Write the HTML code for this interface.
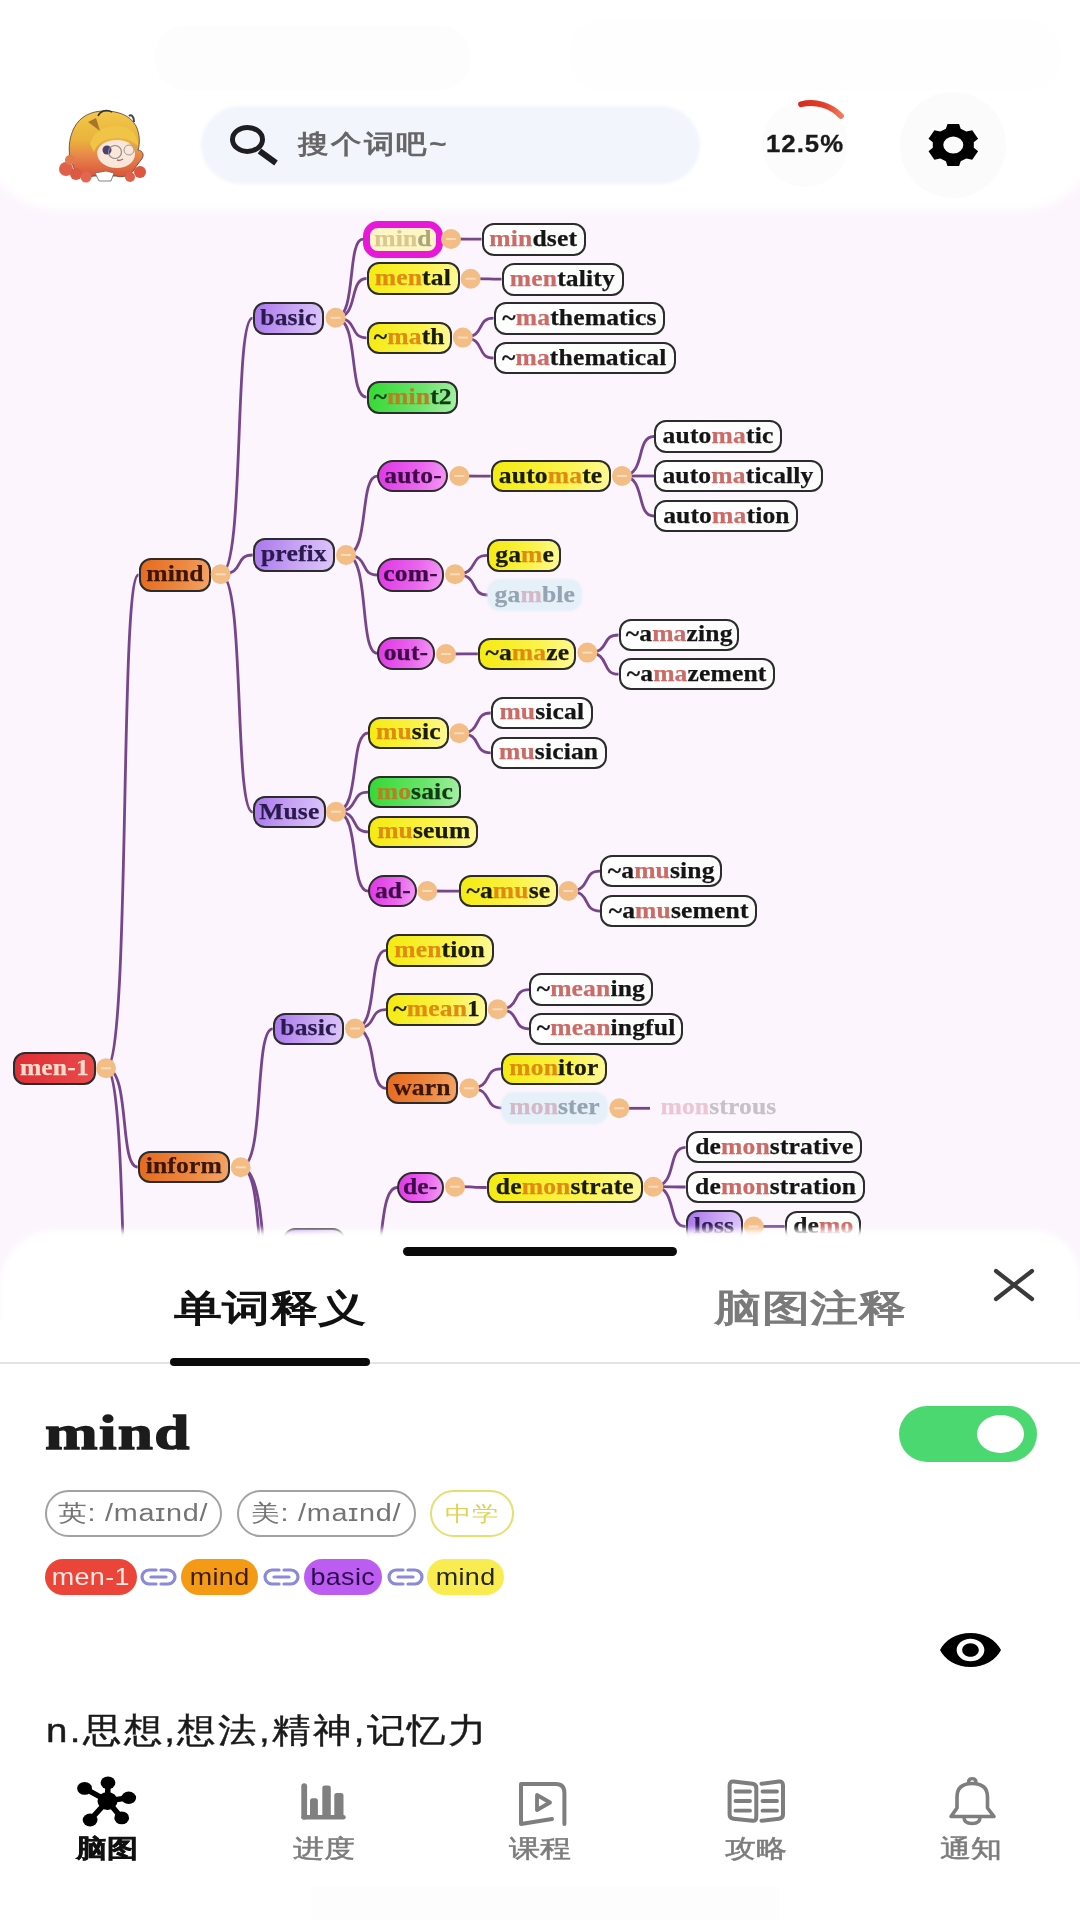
<!DOCTYPE html>
<html><head><meta charset="utf-8">
<style>
*{margin:0;padding:0;box-sizing:border-box}
html,body{width:1080px;height:1920px;overflow:hidden;background:#fff;font-family:"Liberation Sans",sans-serif}
.abs{position:absolute}
#map{position:absolute;left:0;top:0;width:1080px;height:1320px;overflow:hidden;background:#fcf5fd}
.n{position:absolute;border:2px solid #2c2c2c;border-radius:12px;display:flex;align-items:center;justify-content:center;font-family:"Liberation Serif",serif;font-weight:bold;font-size:24px;letter-spacing:0.15px;white-space:nowrap;line-height:1;padding-bottom:3px}
.n .t{display:inline-block;transform:scaleX(1.065);-webkit-text-stroke:0.25px currentColor}
.n i{font-style:normal}
svg.lines path{fill:none;stroke:#76458c;stroke-width:2.8}
svg.hd circle{fill:#f3bd86}
svg.hd path.mi{stroke:#fbe2c8;stroke-width:2;opacity:.8}
#hdr{position:absolute;left:0;top:0;width:1080px;height:208px}
#hdrbg{position:absolute;left:-20px;top:-40px;width:1120px;height:250px;background:#fff;border-radius:0 0 80px 80px;filter:blur(5px)}
#sheet{position:absolute;left:0;top:1230px;width:1080px;height:690px}
#shbg{position:absolute;left:0;top:0;width:1080px;height:740px;background:#fff;border-radius:56px 48px 0 0;filter:blur(3px)}
.tab{position:absolute;font-size:37px;font-weight:bold;letter-spacing:0px;transform:scaleX(1.3);transform-origin:0 0}
.pill{position:absolute;border:2.5px solid #a2a2a2;border-radius:24px;color:#747474;font-size:23px;letter-spacing:0.6px;display:flex;align-items:center;justify-content:center;white-space:nowrap}
.chip{position:absolute;border-radius:18px;font-size:24px;letter-spacing:0.3px;display:flex;align-items:center;justify-content:center;white-space:nowrap}
.pill span{display:inline-block;transform:scaleX(1.25)}
.chip span{display:inline-block;transform:scaleX(1.12)}
.nav{position:absolute;font-size:25px;color:#7c7c7c;text-align:center;width:120px;transform:scaleX(1.24);-webkit-text-stroke:0.5px currentColor;line-height:30px}
</style></head><body>
<div id="map">
<svg class="lines abs" width="1080" height="1320" style="left:0;top:0">
<path d="M106.0 1068.3C131.2 1068.3 119.0 575.0 138.5 575.0"/>
<path d="M106.0 1068.3C130.6 1068.3 118.7 1167.0 137.7 1167.0"/>
<path d="M106.0 1068.3C130.8 1068.3 118.8 1500.0 138.0 1500.0"/>
<path d="M220.7 574.3C245.3 574.3 233.4 318.2 252.5 318.2"/>
<path d="M220.7 574.3C245.5 574.3 233.5 555.0 252.7 555.0"/>
<path d="M220.7 574.3C245.5 574.3 233.5 812.1 252.7 812.1"/>
<path d="M240.7 1167.3C265.5 1167.3 253.5 1028.8 272.7 1028.8"/>
<path d="M240.7 1167.3C265.5 1167.3 253.5 1300.0 272.7 1300.0"/>
<path d="M240.7 1167.3C273.5 1167.3 257.6 1350.0 283.0 1350.0"/>
<path d="M335.6 317.8C356.8 317.8 346.6 239.2 363.0 239.2"/>
<path d="M335.6 317.8C359.5 317.8 348.0 278.5 366.5 278.5"/>
<path d="M335.6 317.8C359.5 317.8 348.0 337.8 366.5 337.8"/>
<path d="M335.6 317.8C359.5 317.8 348.0 397.2 366.5 397.2"/>
<path d="M346.0 555.0C370.3 555.0 358.5 476.1 377.3 476.1"/>
<path d="M346.0 555.0C370.3 555.0 358.5 575.0 377.3 575.0"/>
<path d="M346.0 555.0C370.3 555.0 358.5 653.4 377.3 653.4"/>
<path d="M336.0 811.7C361.0 811.7 348.9 733.0 368.3 733.0"/>
<path d="M336.0 811.7C361.0 811.7 348.9 792.1 368.3 792.1"/>
<path d="M336.0 811.7C361.0 811.7 348.9 831.9 368.3 831.9"/>
<path d="M336.0 811.7C361.0 811.7 348.9 891.1 368.3 891.1"/>
<path d="M355.0 1028.5C379.0 1028.5 367.4 950.4 386.0 950.4"/>
<path d="M355.0 1028.5C379.0 1028.5 367.4 1009.6 386.0 1009.6"/>
<path d="M355.0 1028.5C379.0 1028.5 367.4 1088.3 386.0 1088.3"/>
<path d="M451.0 239.0C474.6 239.0 463.2 239.2 481.5 239.2"/>
<path d="M470.6 278.7C494.5 278.7 483.0 279.2 501.5 279.2"/>
<path d="M462.8 337.6C486.6 337.6 475.1 318.2 493.5 318.2"/>
<path d="M462.8 337.6C486.6 337.6 475.1 358.0 493.5 358.0"/>
<path d="M459.3 476.0C483.6 476.0 471.9 476.1 490.7 476.1"/>
<path d="M455.0 574.3C480.1 574.3 468.0 555.4 487.4 555.4"/>
<path d="M455.0 574.3C480.6 574.3 468.2 595.0 488.0 595.0"/>
<path d="M446.0 654.0C470.6 654.0 458.7 653.9 477.8 653.9"/>
<path d="M622.0 476.0C646.8 476.0 634.8 436.5 654.0 436.5"/>
<path d="M622.0 476.0C646.8 476.0 634.8 476.0 654.0 476.0"/>
<path d="M622.0 476.0C646.8 476.0 634.8 516.0 654.0 516.0"/>
<path d="M587.4 652.6C611.5 652.6 599.8 635.0 618.5 635.0"/>
<path d="M587.4 652.6C611.5 652.6 599.8 674.2 618.5 674.2"/>
<path d="M459.3 733.3C483.6 733.3 471.9 713.0 490.7 713.0"/>
<path d="M459.3 733.3C483.6 733.3 471.9 752.9 490.7 752.9"/>
<path d="M427.3 891.0C451.9 891.0 440.0 891.1 459.0 891.1"/>
<path d="M568.3 891.0C592.9 891.0 581.0 871.1 600.0 871.1"/>
<path d="M568.3 891.0C592.9 891.0 581.0 911.1 600.0 911.1"/>
<path d="M497.7 1009.3C522.2 1009.3 510.3 989.6 529.3 989.6"/>
<path d="M497.7 1009.3C522.2 1009.3 510.3 1028.8 529.3 1028.8"/>
<path d="M469.3 1088.3C493.9 1088.3 482.0 1068.8 501.0 1068.8"/>
<path d="M469.3 1088.3C494.4 1088.3 482.3 1108.0 501.7 1108.0"/>
<path d="M619.3 1108.3C643.1 1108.3 631.6 1108.3 650.0 1108.3"/>
<path d="M455.0 1186.7C479.6 1186.7 467.7 1187.5 486.7 1187.5"/>
<path d="M653.3 1186.7C678.3 1186.7 666.2 1147.3 685.6 1147.3"/>
<path d="M653.3 1186.7C678.3 1186.7 666.2 1187.0 685.6 1187.0"/>
<path d="M653.3 1186.7C678.3 1186.7 666.2 1226.5 685.6 1226.5"/>
<path d="M753.6 1226.5C777.7 1226.5 766.0 1226.5 784.7 1226.5"/>
<path d="M358.0 1300.0C388.5 1300.0 373.7 1187.5 397.3 1187.5"/>
</svg>
<div class="n" style="left:363.0px;top:220.5px;width:79.5px;height:37.5px;background:#fdf5c6;color:#a9a77a;border:7px solid #e818d8;border-radius:15px;"><span class="t"><i style="color:#d9c78c">min</i>d</span></div>
<div class="n" style="left:366.5px;top:262.0px;width:93.0px;height:33.0px;background:linear-gradient(100deg,#f4ea10 0%,#fbf34a 60%,#fdf99a 100%);color:#1a1a08;"><span class="t"><i style="color:#e08a12">men</i>tal</span></div>
<div class="n" style="left:366.5px;top:321.5px;width:85.0px;height:32.5px;background:linear-gradient(100deg,#f4ea10 0%,#fbf34a 60%,#fdf99a 100%);color:#1a1a08;"><span class="t">~<i style="color:#e08a12">ma</i>th</span></div>
<div class="n" style="left:366.5px;top:381.0px;width:91.5px;height:32.5px;background:linear-gradient(100deg,#34d834 0%,#6ce46c 60%,#a6f0a6 100%);color:#143a14;"><span class="t">~<i style="color:#b8801e">min</i>t2</span></div>
<div class="n" style="left:252.5px;top:302.0px;width:71.5px;height:32.5px;background:linear-gradient(100deg,#a977ec 0%,#c9a6f4 55%,#dcc6fb 100%);color:#2b1a4e;"><span class="t">basic</span></div>
<div class="n" style="left:481.5px;top:223.0px;width:104.0px;height:32.5px;background:linear-gradient(100deg,#ffffff 0%,#fbfbfb 100%);color:#151515;"><span class="t"><i style="color:#cc6a66">min</i>dset</span></div>
<div class="n" style="left:501.5px;top:263.0px;width:122.5px;height:32.5px;background:linear-gradient(100deg,#ffffff 0%,#fbfbfb 100%);color:#151515;"><span class="t"><i style="color:#cc6a66">men</i>tality</span></div>
<div class="n" style="left:493.5px;top:302.0px;width:171.5px;height:32.5px;background:linear-gradient(100deg,#ffffff 0%,#fbfbfb 100%);color:#151515;"><span class="t">~<i style="color:#cc6a66">ma</i>thematics</span></div>
<div class="n" style="left:493.5px;top:342.0px;width:182.0px;height:32.0px;background:linear-gradient(100deg,#ffffff 0%,#fbfbfb 100%);color:#151515;"><span class="t">~<i style="color:#cc6a66">ma</i>thematical</span></div>
<div class="n" style="left:138.5px;top:558.3px;width:72.2px;height:33.4px;background:linear-gradient(100deg,#e56a1e 0%,#ee8840 60%,#f3a468 100%);color:#3a1608;"><span class="t">mind</span></div>
<div class="n" style="left:252.7px;top:538.3px;width:82.3px;height:33.4px;background:linear-gradient(100deg,#a977ec 0%,#c9a6f4 55%,#dcc6fb 100%);color:#2b1a4e;"><span class="t">prefix</span></div>
<div class="n" style="left:377.3px;top:460.0px;width:71.0px;height:32.3px;background:linear-gradient(100deg,#df36e6 0%,#ea66ee 60%,#f39af4 100%);color:#3c0a44;border-radius:16px;"><span class="t">auto-</span></div>
<div class="n" style="left:377.3px;top:558.3px;width:66.7px;height:33.4px;background:linear-gradient(100deg,#df36e6 0%,#ea66ee 60%,#f39af4 100%);color:#3c0a44;border-radius:16px;"><span class="t">com-</span></div>
<div class="n" style="left:377.3px;top:636.7px;width:57.7px;height:33.3px;background:linear-gradient(100deg,#df36e6 0%,#ea66ee 60%,#f39af4 100%);color:#3c0a44;border-radius:16px;"><span class="t">out-</span></div>
<div class="n" style="left:490.7px;top:460.0px;width:120.8px;height:32.2px;background:linear-gradient(100deg,#f4ea10 0%,#fbf34a 60%,#fdf99a 100%);color:#1a1a08;"><span class="t">auto<i style="color:#e08a12">ma</i>te</span></div>
<div class="n" style="left:654.0px;top:420.4px;width:127.5px;height:32.2px;background:linear-gradient(100deg,#ffffff 0%,#fbfbfb 100%);color:#151515;"><span class="t">auto<i style="color:#cc6a66">ma</i>tic</span></div>
<div class="n" style="left:654.0px;top:460.0px;width:168.6px;height:32.0px;background:linear-gradient(100deg,#ffffff 0%,#fbfbfb 100%);color:#151515;"><span class="t">auto<i style="color:#cc6a66">ma</i>tically</span></div>
<div class="n" style="left:654.0px;top:500.0px;width:144.0px;height:32.0px;background:linear-gradient(100deg,#ffffff 0%,#fbfbfb 100%);color:#151515;"><span class="t">auto<i style="color:#cc6a66">ma</i>tion</span></div>
<div class="n" style="left:487.4px;top:538.9px;width:73.6px;height:33.0px;background:linear-gradient(100deg,#f4ea10 0%,#fbf34a 60%,#fdf99a 100%);color:#1a1a08;"><span class="t">ga<i style="color:#e08a12">m</i>e</span></div>
<div class="n" style="left:488.0px;top:580.0px;width:92.7px;height:30.0px;background:#e5f0f9;color:#94a4b2;border:none;box-shadow:0 0 3px 1px #e5f0f9;"><span class="t">ga<i style="color:#d2b8c8">m</i>ble</span></div>
<div class="n" style="left:477.8px;top:637.8px;width:98.5px;height:32.2px;background:linear-gradient(100deg,#f4ea10 0%,#fbf34a 60%,#fdf99a 100%);color:#1a1a08;"><span class="t">~a<i style="color:#e08a12">ma</i>ze</span></div>
<div class="n" style="left:618.5px;top:619.3px;width:120.8px;height:31.4px;background:linear-gradient(100deg,#ffffff 0%,#fbfbfb 100%);color:#151515;"><span class="t">~a<i style="color:#cc6a66">ma</i>zing</span></div>
<div class="n" style="left:618.5px;top:658.0px;width:156.7px;height:32.4px;background:linear-gradient(100deg,#ffffff 0%,#fbfbfb 100%);color:#151515;"><span class="t">~a<i style="color:#cc6a66">ma</i>zement</span></div>
<div class="n" style="left:252.7px;top:796.0px;width:73.0px;height:32.3px;background:linear-gradient(100deg,#a977ec 0%,#c9a6f4 55%,#dcc6fb 100%);color:#2b1a4e;"><span class="t">Muse</span></div>
<div class="n" style="left:368.3px;top:716.7px;width:81.0px;height:32.6px;background:linear-gradient(100deg,#f4ea10 0%,#fbf34a 60%,#fdf99a 100%);color:#1a1a08;"><span class="t"><i style="color:#e08a12">mu</i>sic</span></div>
<div class="n" style="left:368.3px;top:776.0px;width:92.4px;height:32.3px;background:linear-gradient(100deg,#34d834 0%,#6ce46c 60%,#a6f0a6 100%);color:#143a14;"><span class="t"><i style="color:#b8801e">mo</i>saic</span></div>
<div class="n" style="left:368.3px;top:816.0px;width:110.0px;height:31.7px;background:linear-gradient(100deg,#f4ea10 0%,#fbf34a 60%,#fdf99a 100%);color:#1a1a08;"><span class="t"><i style="color:#e08a12">mu</i>seum</span></div>
<div class="n" style="left:368.3px;top:875.0px;width:48.4px;height:32.3px;background:linear-gradient(100deg,#df36e6 0%,#ea66ee 60%,#f39af4 100%);color:#3c0a44;border-radius:16px;"><span class="t">ad-</span></div>
<div class="n" style="left:459.0px;top:875.0px;width:98.7px;height:32.3px;background:linear-gradient(100deg,#f4ea10 0%,#fbf34a 60%,#fdf99a 100%);color:#1a1a08;"><span class="t">~a<i style="color:#e08a12">mu</i>se</span></div>
<div class="n" style="left:490.7px;top:696.7px;width:102.0px;height:32.6px;background:linear-gradient(100deg,#ffffff 0%,#fbfbfb 100%);color:#151515;"><span class="t"><i style="color:#cc6a66">mu</i>sical</span></div>
<div class="n" style="left:490.7px;top:736.7px;width:116.6px;height:32.3px;background:linear-gradient(100deg,#ffffff 0%,#fbfbfb 100%);color:#151515;"><span class="t"><i style="color:#cc6a66">mu</i>sician</span></div>
<div class="n" style="left:600.0px;top:855.0px;width:121.7px;height:32.3px;background:linear-gradient(100deg,#ffffff 0%,#fbfbfb 100%);color:#151515;"><span class="t">~a<i style="color:#cc6a66">mu</i>sing</span></div>
<div class="n" style="left:600.0px;top:895.0px;width:157.3px;height:32.3px;background:linear-gradient(100deg,#ffffff 0%,#fbfbfb 100%);color:#151515;"><span class="t">~a<i style="color:#cc6a66">mu</i>sement</span></div>
<div class="n" style="left:13.3px;top:1052.3px;width:82.4px;height:32.7px;background:linear-gradient(100deg,#de2e36 0%,#ea4a4a 100%);color:#f6dccc;"><span class="t">men-1</span></div>
<div class="n" style="left:137.7px;top:1150.7px;width:92.3px;height:32.6px;background:linear-gradient(100deg,#e56a1e 0%,#ee8840 60%,#f3a468 100%);color:#3a1608;"><span class="t">inform</span></div>
<div class="n" style="left:272.7px;top:1012.7px;width:71.3px;height:32.3px;background:linear-gradient(100deg,#a977ec 0%,#c9a6f4 55%,#dcc6fb 100%);color:#2b1a4e;"><span class="t">basic</span></div>
<div class="n" style="left:386.0px;top:934.0px;width:108.0px;height:32.7px;background:linear-gradient(100deg,#f4ea10 0%,#fbf34a 60%,#fdf99a 100%);color:#1a1a08;"><span class="t"><i style="color:#e08a12">men</i>tion</span></div>
<div class="n" style="left:386.0px;top:993.3px;width:101.3px;height:32.7px;background:linear-gradient(100deg,#f4ea10 0%,#fbf34a 60%,#fdf99a 100%);color:#1a1a08;"><span class="t">~<i style="color:#e08a12">mean</i>1</span></div>
<div class="n" style="left:529.3px;top:973.3px;width:124.0px;height:32.7px;background:linear-gradient(100deg,#ffffff 0%,#fbfbfb 100%);color:#151515;"><span class="t">~<i style="color:#cc6a66">mean</i>ing</span></div>
<div class="n" style="left:529.3px;top:1012.7px;width:154.0px;height:32.3px;background:linear-gradient(100deg,#ffffff 0%,#fbfbfb 100%);color:#151515;"><span class="t">~<i style="color:#cc6a66">mean</i>ingful</span></div>
<div class="n" style="left:386.0px;top:1072.3px;width:72.3px;height:32.0px;background:linear-gradient(100deg,#e56a1e 0%,#ee8840 60%,#f3a468 100%);color:#3a1608;"><span class="t">warn</span></div>
<div class="n" style="left:501.0px;top:1052.7px;width:105.7px;height:32.3px;background:linear-gradient(100deg,#f4ea10 0%,#fbf34a 60%,#fdf99a 100%);color:#1a1a08;"><span class="t"><i style="color:#e08a12">mon</i>itor</span></div>
<div class="n" style="left:501.7px;top:1093.3px;width:105.0px;height:29.4px;background:#e5f0f9;color:#94a4b2;border:none;box-shadow:0 0 3px 1px #e5f0f9;"><span class="t"><i style="color:#d2b8c8">mon</i>ster</span></div>
<div class="n" style="left:652.0px;top:1093.3px;width:133.0px;height:29.4px;background:transparent;color:#c8c0c8;border:none;"><span class="t"><i style="color:#ecc6d2">mon</i>strous</span></div>
<div class="n" style="left:397.3px;top:1171.7px;width:46.7px;height:31.6px;background:linear-gradient(100deg,#df36e6 0%,#ea66ee 60%,#f39af4 100%);color:#3c0a44;border-radius:16px;"><span class="t">de-</span></div>
<div class="n" style="left:486.7px;top:1171.7px;width:156.6px;height:31.6px;background:linear-gradient(100deg,#f4ea10 0%,#fbf34a 60%,#fdf99a 100%);color:#1a1a08;"><span class="t">de<i style="color:#e08a12">mon</i>strate</span></div>
<div class="n" style="left:685.6px;top:1131.4px;width:176.9px;height:31.9px;background:linear-gradient(100deg,#ffffff 0%,#fbfbfb 100%);color:#151515;"><span class="t">de<i style="color:#cc6a66">mon</i>strative</span></div>
<div class="n" style="left:685.6px;top:1171.0px;width:179.7px;height:32.0px;background:linear-gradient(100deg,#ffffff 0%,#fbfbfb 100%);color:#151515;"><span class="t">de<i style="color:#cc6a66">mon</i>stration</span></div>
<div class="n" style="left:685.6px;top:1210.0px;width:57.4px;height:33.0px;background:linear-gradient(100deg,#a977ec 0%,#c9a6f4 55%,#dcc6fb 100%);color:#2b1a4e;"><span class="t">loss</span></div>
<div class="n" style="left:784.7px;top:1210.5px;width:76.3px;height:32.5px;background:linear-gradient(100deg,#ffffff 0%,#fbfbfb 100%);color:#151515;"><span class="t">de<i style="color:#cc6a66">mo</i></span></div>
<div class="n" style="left:283.0px;top:1228.0px;width:62.0px;height:32.0px;background:linear-gradient(100deg,#a977ec 0%,#c9a6f4 55%,#dcc6fb 100%);color:#2b1a4e;"><span class="t"></span></div>
<svg class="hd abs" width="1080" height="1320" style="left:0;top:0">
<circle cx="106" cy="1068.3" r="10"/><path d="M101 1068.3h10" class="mi"/>
<circle cx="220.7" cy="574.3" r="10"/><path d="M215.7 574.3h10" class="mi"/>
<circle cx="240.7" cy="1167.3" r="10"/><path d="M235.7 1167.3h10" class="mi"/>
<circle cx="335.6" cy="317.8" r="10"/><path d="M330.6 317.8h10" class="mi"/>
<circle cx="346" cy="555" r="10"/><path d="M341 555h10" class="mi"/>
<circle cx="336" cy="811.7" r="10"/><path d="M331 811.7h10" class="mi"/>
<circle cx="355" cy="1028.5" r="10"/><path d="M350 1028.5h10" class="mi"/>
<circle cx="451" cy="239" r="10"/><path d="M446 239h10" class="mi"/>
<circle cx="470.6" cy="278.7" r="10"/><path d="M465.6 278.7h10" class="mi"/>
<circle cx="462.8" cy="337.6" r="10"/><path d="M457.8 337.6h10" class="mi"/>
<circle cx="459.3" cy="476" r="10"/><path d="M454.3 476h10" class="mi"/>
<circle cx="455" cy="574.3" r="10"/><path d="M450 574.3h10" class="mi"/>
<circle cx="446" cy="654" r="10"/><path d="M441 654h10" class="mi"/>
<circle cx="622" cy="476" r="10"/><path d="M617 476h10" class="mi"/>
<circle cx="587.4" cy="652.6" r="10"/><path d="M582.4 652.6h10" class="mi"/>
<circle cx="459.3" cy="733.3" r="10"/><path d="M454.3 733.3h10" class="mi"/>
<circle cx="427.3" cy="891" r="10"/><path d="M422.3 891h10" class="mi"/>
<circle cx="568.3" cy="891" r="10"/><path d="M563.3 891h10" class="mi"/>
<circle cx="497.7" cy="1009.3" r="10"/><path d="M492.7 1009.3h10" class="mi"/>
<circle cx="469.3" cy="1088.3" r="10"/><path d="M464.3 1088.3h10" class="mi"/>
<circle cx="619.3" cy="1108.3" r="10"/><path d="M614.3 1108.3h10" class="mi"/>
<circle cx="455" cy="1186.7" r="10"/><path d="M450 1186.7h10" class="mi"/>
<circle cx="653.3" cy="1186.7" r="10"/><path d="M648.3 1186.7h10" class="mi"/>
<circle cx="753.6" cy="1226.5" r="10"/><path d="M748.6 1226.5h10" class="mi"/>
</svg>
</div>

<div id="hdr">
  <div id="hdrbg"></div>
  <div class="abs" style="left:155px;top:25px;width:315px;height:65px;background:#fdfdfd;border-radius:30px"></div>
  <div class="abs" style="left:570px;top:20px;width:490px;height:70px;background:#fefefe;border-radius:30px"></div>
  <!-- avatar -->
  <svg class="abs" style="left:50px;top:100px" width="100" height="90" viewBox="0 0 100 90">
    <defs>
      <linearGradient id="hair" x1="0" y1="0" x2="0" y2="1">
        <stop offset="0" stop-color="#f2c84a"/><stop offset="0.45" stop-color="#e9b23c"/>
        <stop offset="0.7" stop-color="#e7834a"/><stop offset="1" stop-color="#d9533a"/>
      </linearGradient>
    </defs>
    <path d="M20 58 C18 46 20 36 24 28 C30 16 42 11 54 11 C68 11 80 15 86 26 C90 34 90 44 88 50 C93 51 95 55 91 60 C88 64 86 66 84 70 C80 76 72 78 66 76 L44 76 C36 78 28 74 24 68Z" fill="url(#hair)" stroke="#5a3a2a" stroke-width="0.8"/>
    <circle cx="16" cy="69" r="7" fill="#e0604a"/><circle cx="26" cy="74" r="6" fill="#dc5a44"/><circle cx="36" cy="77" r="5.5" fill="#e26650"/>
    <circle cx="20" cy="60" r="5" fill="#e27a50"/><circle cx="90" cy="72" r="6" fill="#dc5640"/><circle cx="80" cy="77" r="5" fill="#e06048"/>
    <path d="M47 52 C49 44 57 40 67 40 C78 40 85 46 85 54 C85 62 77 68 67 68 C56 68 47 62 47 52Z" fill="#fbe6da"/>
    <path d="M40 44 C44 30 56 26 68 26 C80 26 88 34 88 46 C82 40 74 38 66 38 C56 38 48 42 44 52Z" fill="#efc447"/>
    <path d="M38 22 L50 31 L46 18Z" fill="#a87428"/>
    <path d="M48 16 C50 11 56 9 62 12" fill="none" stroke="#333" stroke-width="1.5"/>
    <path d="M79 16 C81 14 84 16 84 22" fill="none" stroke="#444" stroke-width="2"/>
    <ellipse cx="57" cy="50" rx="4.5" ry="4.5" fill="#4a4270"/>
    <circle cx="65" cy="52" r="6.5" fill="none" stroke="#8a8a8a" stroke-width="1.2"/>
    <circle cx="79" cy="50" r="5" fill="none" stroke="#9a9a9a" stroke-width="1"/>
    <path d="M67 60 Q70 61 73 59" stroke="#b06060" stroke-width="1.4" fill="none"/>
    <path d="M45 73 L56 71 L64 73 L61 81 L49 81Z" fill="#fff" stroke="#666" stroke-width="0.8"/>
  </svg>
  <!-- search -->
  <div class="abs" style="left:201px;top:106px;width:499px;height:78px;background:#f3f5fc;border-radius:39px;filter:blur(1.5px)"></div>
  <svg class="abs" style="left:0;top:0" width="600" height="208">
    <ellipse cx="247.5" cy="139.4" rx="15" ry="12" fill="none" stroke="#1e1e22" stroke-width="5"/>
    <path d="M259.5 151 L276 163" stroke="#1e1e22" stroke-width="6"/>
  </svg>
  <div class="abs" style="left:298px;top:127px;font-size:26px;color:#666;font-weight:bold;letter-spacing:2px;transform:scaleX(1.17);transform-origin:0 0">搜个词吧~</div>
  <!-- progress -->
  <div class="abs" style="left:762px;top:101px;width:86px;height:86px;border-radius:50%;background:#fcfcfc"></div>
  <svg class="abs" style="left:750px;top:90px" width="110" height="110" viewBox="0 0 110 110">
    <defs><linearGradient id="arcg" x1="0" y1="0" x2="1" y2="0"><stop offset="0" stop-color="#d92a20"/><stop offset="0.6" stop-color="#e2402c"/><stop offset="1" stop-color="#ec7a5c"/></linearGradient></defs><path d="M51 14.3 A41 41 0 0 1 91 26" fill="none" stroke="url(#arcg)" stroke-width="5.8" stroke-linecap="round"/>
  </svg>
  <div class="abs" style="left:766px;top:131px;font-size:23px;font-weight:bold;color:#1a1a1a;letter-spacing:0.9px;transform:scaleX(1.12);transform-origin:0 0;-webkit-text-stroke:0.3px #1a1a1a">12.5%</div>
  <!-- settings -->
  <div class="abs" style="left:900px;top:92px;width:106px;height:106px;border-radius:50%;background:#fbfbfb"></div>
  <svg class="abs" style="left:0;top:0" width="1080" height="208"><path fill="#000" fill-rule="evenodd" d="M960.7 128.8 L959.1 123.9 L947.5 123.9 L945.9 128.8 L940.3 131.5 L934.4 130.2 L928.5 138.7 L932.8 142.3 L932.8 147.7 L928.5 151.3 L934.4 159.8 L940.3 158.5 L945.9 161.2 L947.5 166.1 L959.1 166.1 L960.7 161.2 L966.3 158.5 L972.2 159.8 L978.1 151.3 L973.8 147.7 L973.8 142.3 L978.1 138.7 L972.2 130.2 L966.3 131.5Z M943.3 145 A10 8.6 0 1 0 963.3 145 A10 8.6 0 1 0 943.3 145Z"/></svg>
</div>

<div id="sheet">
  <div id="shbg"></div>
  <div class="abs" style="left:403px;top:17px;width:274px;height:9px;background:#0a0a0a;border-radius:5px"></div>
  <div class="tab" style="left:174px;top:54px;color:#111">单词释义</div>
  <div class="tab" style="left:714px;top:54px;color:#7a7a7a">脑图注释</div>
  <svg class="abs" style="left:990px;top:36px" width="48" height="48" viewBox="0 0 48 48">
    <path d="M6 5 L42 33 M42 5 L6 33" stroke="#3a3a3a" stroke-width="4.2" stroke-linecap="round"/>
  </svg>
  <div class="abs" style="left:0;top:132px;width:1080px;height:2px;background:#e3e3e3"></div>
  <div class="abs" style="left:170px;top:128px;width:200px;height:8px;background:#0a0a0a;border-radius:4px"></div>

  <div class="abs" style="left:45px;top:174px;font-family:'Liberation Serif',serif;font-weight:bold;font-size:49px;color:#1c1c1c;letter-spacing:1px;-webkit-text-stroke:1.3px #1c1c1c;transform:scaleX(1.29);transform-origin:0 0">mind</div>
  <div class="abs" style="left:899px;top:176px;width:138px;height:56px;border-radius:28px;background:#4cd870"></div>
  <div class="abs" style="left:977px;top:185px;width:47px;height:38px;border-radius:50%;background:#fff"></div>

  <div class="pill" style="left:45px;top:260px;width:177px;height:47px"><span>英: /maɪnd/</span></div>
  <div class="pill" style="left:237px;top:260px;width:179px;height:47px"><span>美: /maɪnd/</span></div>
  <div class="pill" style="left:430px;top:260px;width:84px;height:47px;border-color:#e4e070;color:#dcd45a"><span style="font-size:21px">中学</span></div>

  <div class="chip" style="left:45px;top:329px;width:92px;height:36px;background:#ea4538;color:#fdeae6"><span>men-1</span></div>
  <div class="chip" style="left:181px;top:329px;width:77px;height:36px;background:#f59a14;color:#3a1c0c"><span>mind</span></div>
  <div class="chip" style="left:304px;top:329px;width:78px;height:36px;background:#bd5cf0;color:#2a0c4c"><span>basic</span></div>
  <div class="chip" style="left:427px;top:329px;width:77px;height:36px;background:#f8ec50;color:#262612"><span>mind</span></div>
    <svg class="abs" style="left:0;top:0" width="1080" height="690">
   <g fill="none" stroke="#8a8ad6" stroke-width="3.2" stroke-linecap="round">
    <path d="M156 340 H149 A7 7 0 0 0 149 354 H156 M161 340 H168 A7 7 0 0 1 168 354 H161 M151 347 H166"/>
    <path d="M279 340 H272 A7 7 0 0 0 272 354 H279 M284 340 H291 A7 7 0 0 1 291 354 H284 M274 347 H289"/>
    <path d="M403 340 H396 A7 7 0 0 0 396 354 H403 M408 340 H415 A7 7 0 0 1 415 354 H408 M398 347 H413"/>
   </g>
  </svg>


  <svg class="abs" style="left:940px;top:403px" width="61" height="34" viewBox="1 4.5 22 15" preserveAspectRatio="none">
    <path fill="#000" d="M12 4.5C7 4.5 2.73 7.61 1 12c1.73 4.39 6 7.5 11 7.5s9.27-3.11 11-7.5c-1.73-4.39-6-7.5-11-7.5zM12 17c-2.76 0-5-2.24-5-5s2.24-5 5-5 5 2.24 5 5-2.24 5-5 5zm0-8c-1.66 0-3 1.34-3 3s1.34 3 3 3 3-1.34 3-3-1.34-3-3-3z"/>
  </svg>
  <div class="abs" style="left:46px;top:478px;font-size:34px;color:#1a1a1a;letter-spacing:2.1px;transform:scaleX(1.13);transform-origin:0 0;-webkit-text-stroke:0.4px #1a1a1a">n.思想,想法,精神,记忆力</div>

  <div class="abs" style="left:311px;top:657px;width:469px;height:40px;background:#fdfdfd"></div>
    <svg class="abs" style="left:0;top:0" width="1080" height="690">
   <g fill="#000" stroke="#000" stroke-width="5.5">
    <path d="M107.5 570.9000000000001 L108 552.8 M107.5 570.9000000000001 L84.6 558.4000000000001 M107.5 570.9000000000001 L128.7 567.8 M107.5 570.9000000000001 L90.1 590 M107.5 570.9000000000001 L121.7 587.9000000000001"/>
    <ellipse cx="107.5" cy="570.9" rx="10" ry="9" stroke="none"/>
    <ellipse cx="108" cy="552.8" rx="7.4" ry="6.4" stroke="none"/>
    <ellipse cx="84.6" cy="558.4" rx="7.4" ry="6.4" stroke="none"/>
    <ellipse cx="128.7" cy="567.8" rx="7.4" ry="6.2" stroke="none"/>
    <ellipse cx="90.1" cy="590.0" rx="7.4" ry="6.4" stroke="none"/>
    <ellipse cx="121.7" cy="587.9" rx="7.4" ry="6.4" stroke="none"/>
   </g>
   <g fill="none" stroke="#7e7e7e" stroke-width="4" stroke-linecap="round" stroke-linejoin="round">
    <path d="M303 554 V588 H344 M309.5 588 V568 M317 588 V562 M325 588 V558 M333 588 V566 M341 588 V566" stroke-width="0"/>
    <path d="M564.4 594 V563 Q564.4 554 556 554 H521 V594 L552 589"/>
    <path d="M537 565 L550 572.5 L537 580 Z" stroke-width="3.8"/>
    <path d="M733.5 551.5 L752.5 553.8 Q756.3 554.3 756.3 558 V587 Q756.3 591.3 752.5 590.8 L733.5 588.7 Q729.6 588.3 729.6 584.5 V555.5 Q729.6 551.0999999999999 733.5 551.5 Z"/>
    <path d="M761.5 553.8 L779 551.5 Q783 551.0999999999999 783 555.5 V584.5 Q783 588.3 779 588.7 L761.5 590.8"/>
    <path d="M735.5 561.5 H750 M735.5 571 H750 M735.5 580.7 H750 M762.5 561.5 H777 M762.5 571 H777 M762.5 580.7 H777" stroke-width="3.8"/>
    <path d="M951 586.5 L957 578 V567 Q957 553.5 972.2 553.5 Q987.5 553.5 987.5 567 V578 L994 586.5 Z" stroke-width="3.6"/>
    <path d="M964 587.5 Q964 593.5 972.2 593.5 Q980 593.5 980 587.5" stroke-width="3.4"/>
    <path d="M968.5 552.5 Q968.5 548.5999999999999 972.2 548.5999999999999 Q976 548.5999999999999 976 552.5" stroke-width="3.4"/>
   </g>
   <g fill="#808080">
    <rect x="301.3" y="553.3" width="5.8" height="36.3" rx="2.9"/>
    <rect x="301.3" y="585.0" width="44.4" height="4.6" rx="2.3"/>
    <rect x="310" y="568.2" width="7.9" height="19" rx="2.5"/>
    <rect x="322.3" y="555.6" width="8.5" height="32" rx="2.5"/>
    <rect x="334.3" y="563.0" width="9.2" height="25" rx="2.5"/>
   </g>
  </svg>
    <div class="nav" style="left:47.3px;top:603px;color:#111;font-weight:bold">脑图</div>
  <div class="nav" style="left:263.7px;top:603px">进度</div>
  <div class="nav" style="left:480.0px;top:603px">课程</div>
  <div class="nav" style="left:696.3px;top:603px">攻略</div>
  <div class="nav" style="left:911.1px;top:603px">通知</div>

</div>
</body></html>
